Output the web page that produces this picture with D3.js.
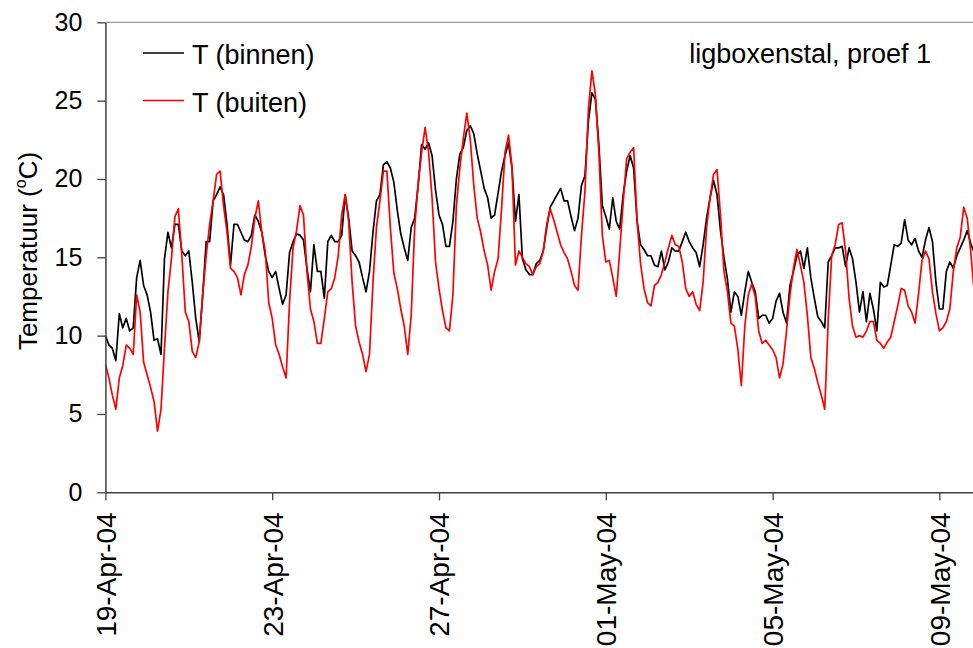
<!DOCTYPE html>
<html>
<head>
<meta charset="utf-8">
<script src="https://cdn.jsdelivr.net/npm/d3@7"></script>
<style>
  html, body { margin: 0; padding: 0; background: #fff; }
  svg { display: block; font-family: "Liberation Sans", Arial, sans-serif; }
</style>
</head>
<body>
<svg id="chart" width="973" height="648"></svg>
<script>
// ---- data (2-hourly readings from 19-Apr-04 00:00) ----
const startTime = Date.UTC(2004, 3, 19, 0, 0);
const stepHours = 2;
const endTime = Date.UTC(2004, 4, 9, 19, 20);

const tBinnen = [
  10.0, 9.4, 9.2, 8.4, 11.4, 10.5, 11.1, 10.3, 10.5, 13.7,
  14.8, 13.2, 12.6, 11.5, 9.7, 9.8, 8.8, 14.9, 16.6, 15.6,
  17.1, 17.1, 15.4, 15.1, 15.4, 13.4, 11.1, 9.6, 12.6, 16.0,
  16.0, 18.6, 19.0, 19.5, 19.0, 17.1, 14.5, 17.1, 17.1, 16.6,
  16.1, 16.0,
  16.4, 17.7, 17.3, 16.6, 15.1, 14.1, 13.7, 14.1,
  13.0, 12.0, 12.6, 15.3, 16.0, 16.5, 16.4, 16.1, 14.3, 12.8,
  15.8, 14.1, 14.1, 12.4, 16.0, 16.4, 16.0, 16.0, 16.4, 19.0,
  17.5, 15.4, 15.1, 14.7, 13.7, 12.8, 14.1, 16.6, 18.6, 19.0,
  20.9, 21.1, 20.7, 19.8,
  18.0, 16.5, 15.6, 14.8, 16.9, 17.5,
  19.6, 22.2, 21.9, 22.3, 21.5, 19.3, 17.7, 17.1, 15.7, 15.7,
  17.3, 20.0, 21.6, 22.0, 23.1, 23.4, 22.9, 21.6, 20.5, 19.4,
  18.8, 17.5, 17.7, 19.1, 20.5, 21.5, 22.3, 20.7, 17.3, 19.0,
  14.9, 14.2, 13.9, 13.9, 14.6, 14.8,
  15.4, 16.9, 18.2, 18.6,
  19.0, 19.4, 18.6, 18.6, 17.6, 16.7, 17.5, 19.6, 20.2, 23.7,
  25.5, 25.1, 22.2, 18.3, 17.6, 16.8, 18.8, 17.3, 16.8, 19.0,
  20.5, 21.5, 20.7, 17.3, 15.8, 15.5, 15.1, 15.1, 14.5, 14.4,
  15.4, 14.2, 14.7, 15.6, 15.4, 15.4, 16.0, 16.6,
  16.0, 15.6,
  15.3, 14.4, 15.8, 17.5, 18.8, 19.9, 19.0, 16.7, 15.0, 13.6,
  11.5, 12.8, 12.5, 11.3, 12.8, 14.1, 13.4, 12.8, 11.1, 11.3,
  11.3, 10.8, 11.1, 12.2, 12.7, 11.5, 10.8, 13.2, 14.1, 15.1,
  15.4, 14.3, 15.6, 13.7, 12.4, 11.2, 10.9, 10.5, 14.7,
  15.1,
  15.6, 15.6, 15.7, 14.4, 15.6, 14.9, 13.4, 11.5, 12.8, 10.9,
  12.7, 11.7, 10.3, 13.4, 13.1, 13.2, 14.5, 15.8, 15.7, 15.9,
  17.4, 16.1, 15.8, 16.2, 15.4, 15.0, 16.1, 16.9, 16.0, 13.4,
  11.7, 11.7, 14.1, 14.7, 14.3, 15.1, 15.6, 16.1, 16.7, 15.9,
  15.3
];

const tBuiten = [
  8.2, 7.3, 6.2, 5.3, 7.3, 8.1, 9.4, 9.2, 8.8, 12.6,
  11.5, 8.3, 7.5, 6.7, 5.8, 3.9, 5.3, 9.2, 12.8, 14.9,
  17.6, 18.1, 15.1, 11.5, 10.9, 9.0, 8.6, 9.6, 12.6, 15.1,
  17.1, 18.6, 20.3, 20.5, 18.3, 16.6, 14.3, 14.1, 13.7, 12.6,
  13.9, 14.5,
  15.7, 17.5, 18.6, 16.6, 15.4, 12.1, 11.1, 9.4,
  8.8, 8.0, 7.3, 12.2, 15.6, 16.7, 18.3, 17.7, 14.1, 11.7,
  10.9, 9.5, 9.5, 11.1, 12.8, 13.0, 13.7, 15.1, 17.7, 19.0,
  17.3, 13.4, 10.6, 9.6, 8.8, 7.7, 8.8, 13.4, 16.9, 18.6,
  20.5, 20.5, 16.9, 14.0,
  13.0, 11.7, 10.6, 8.8, 11.3, 16.9,
  19.7, 21.7, 23.3, 21.7, 18.8, 14.7, 13.0, 11.6, 10.5, 10.3,
  12.6, 18.3, 20.7, 22.6, 24.2, 22.5, 19.6, 17.5, 16.6, 15.4,
  14.5, 12.9, 14.1, 14.9, 18.1, 21.7, 22.8, 20.8, 14.5, 15.4,
  15.0, 14.6, 14.4, 13.9, 14.4, 14.6,
  15.4, 17.1, 18.1, 17.4,
  16.6, 15.8, 15.3, 14.9, 14.1, 13.2, 12.9, 16.4, 19.2, 24.5,
  26.9, 25.4, 21.7, 16.4, 14.7, 14.8, 13.7, 12.5, 15.4, 18.5,
  21.3, 21.7, 22.0, 17.3, 14.6, 13.0, 12.1, 11.9, 13.2, 13.4,
  13.9, 14.7, 15.6, 16.4, 15.8, 15.7, 14.7, 13.0,
  12.5, 12.8,
  12.0, 11.6, 13.4, 16.9, 18.8, 20.3, 20.6, 17.7, 14.1, 12.8,
  10.8, 10.6, 9.1, 6.8, 10.6, 12.6, 13.3, 12.5, 10.3, 9.5,
  9.7, 9.4, 9.1, 8.6, 7.3, 8.2, 10.3, 12.6, 14.3, 15.5,
  14.5, 13.4, 11.3, 8.6, 7.9, 7.0, 6.2, 5.3, 11.0,
  15.1,
  15.8, 17.1, 17.2, 15.4, 12.4, 10.6, 9.9, 10.0, 9.9, 10.3,
  10.9, 10.9, 9.7, 9.5, 9.2, 9.6, 9.9, 10.9, 11.9, 13.0,
  12.9, 11.9, 11.5, 10.8, 12.7, 14.8, 15.4, 14.9, 12.8, 11.4,
  10.3, 10.5, 10.9, 11.7, 14.1, 15.6, 16.3, 18.2, 17.5, 15.4,
  12.8
];

const yTicks = [0, 5, 10, 15, 20, 25, 30];
const xTickDates = ["2004-04-19", "2004-04-23", "2004-04-27", "2004-05-01", "2004-05-05", "2004-05-09"];
const seriesNames = ["T (binnen)", "T (buiten)"];
const seriesColors = ["#000000", "#ff0000"];
const annotation = "ligboxenstal, proef 1";

// ---- layout ----
const svg = d3.select("#chart");
const plot = { left: 105.4, right: 973, top: 22.3, bottom: 492.3 };

const x = d3.scaleUtc()
  .domain([new Date(startTime), new Date(endTime)])
  .range([plot.left, plot.right]);
const y = d3.scaleLinear().domain([0, 30]).range([plot.bottom, plot.top]);

const toPoints = arr => arr.map((v, i) => ({ t: new Date(startTime + i * stepHours * 3600e3), v }));

svg.append("defs").append("clipPath").attr("id", "clip")
  .append("rect").attr("x", plot.left).attr("y", plot.top - 5)
  .attr("width", plot.right - plot.left).attr("height", plot.bottom - plot.top + 5);

// top border of plot area
svg.append("line")
  .attr("x1", plot.left).attr("x2", plot.right)
  .attr("y1", plot.top).attr("y2", plot.top)
  .attr("stroke", "#9a9a9a").attr("stroke-width", 1.3);

// lines
const line = d3.line().x(d => x(d.t)).y(d => y(d.v));
const gLines = svg.append("g").attr("clip-path", "url(#clip)");
[tBinnen, tBuiten].forEach((arr, k) => {
  gLines.append("path")
    .datum(toPoints(arr))
    .attr("fill", "none")
    .attr("stroke", seriesColors[k])
    .attr("stroke-width", 1.7)
    .attr("stroke-linejoin", "round")
    .attr("d", line);
});

// y axis
const yAxis = svg.append("g")
  .attr("transform", `translate(${plot.left},0)`)
  .call(d3.axisLeft(y).tickValues(yTicks).tickSize(8).tickPadding(15).tickSizeOuter(0));
yAxis.select(".domain").attr("stroke", "#404040").attr("stroke-width", 1.5);
yAxis.selectAll(".tick line").attr("stroke", "#404040").attr("stroke-width", 1.3);
yAxis.selectAll(".tick text")
  .attr("font-size", 25).attr("fill", "#000")
  .attr("font-family", "'Liberation Sans', Arial, sans-serif");

// x axis
const xAxis = svg.append("g")
  .attr("transform", `translate(0,${plot.bottom})`)
  .call(d3.axisBottom(x)
    .tickValues(xTickDates.map(s => new Date(s + "T00:00:00Z")))
    .tickFormat(d3.utcFormat("%d-%b-%y"))
    .tickSize(8).tickSizeOuter(0));
xAxis.select(".domain").attr("stroke", "#404040").attr("stroke-width", 1.5);
xAxis.selectAll(".tick line").attr("stroke", "#404040").attr("stroke-width", 1.3);
xAxis.selectAll(".tick text")
  .attr("font-size", 28).attr("fill", "#000")
  .attr("font-family", "'Liberation Sans', Arial, sans-serif")
  .attr("text-anchor", "end")
  .attr("transform", "rotate(-90)")
  .attr("x", -20).attr("y", 0).attr("dy", "0.35em");

// y axis title
const yt = svg.append("text")
  .attr("transform", "translate(37,251) rotate(-90)")
  .attr("text-anchor", "middle")
  .attr("font-size", 26).attr("fill", "#000");
yt.append("tspan").text("Temperatuur (");
yt.append("tspan").text("o").attr("font-size", 16).attr("dy", -11);
yt.append("tspan").text("C)").attr("dy", 11);

// legend
const legend = svg.append("g");
seriesNames.forEach((name, k) => {
  const ly = 53 + k * 47.5;
  legend.append("line")
    .attr("x1", 143).attr("x2", 184).attr("y1", ly).attr("y2", ly)
    .attr("stroke", seriesColors[k]).attr("stroke-width", 1.7);
  legend.append("text")
    .attr("x", 192).attr("y", ly + 11)
    .attr("font-size", 27).attr("fill", "#000")
    .text(name);
});

// annotation
svg.append("text")
  .attr("x", 931).attr("y", 63)
  .attr("text-anchor", "end")
  .attr("font-size", 27).attr("fill", "#000")
  .text(annotation);
</script>
</body>
</html>
